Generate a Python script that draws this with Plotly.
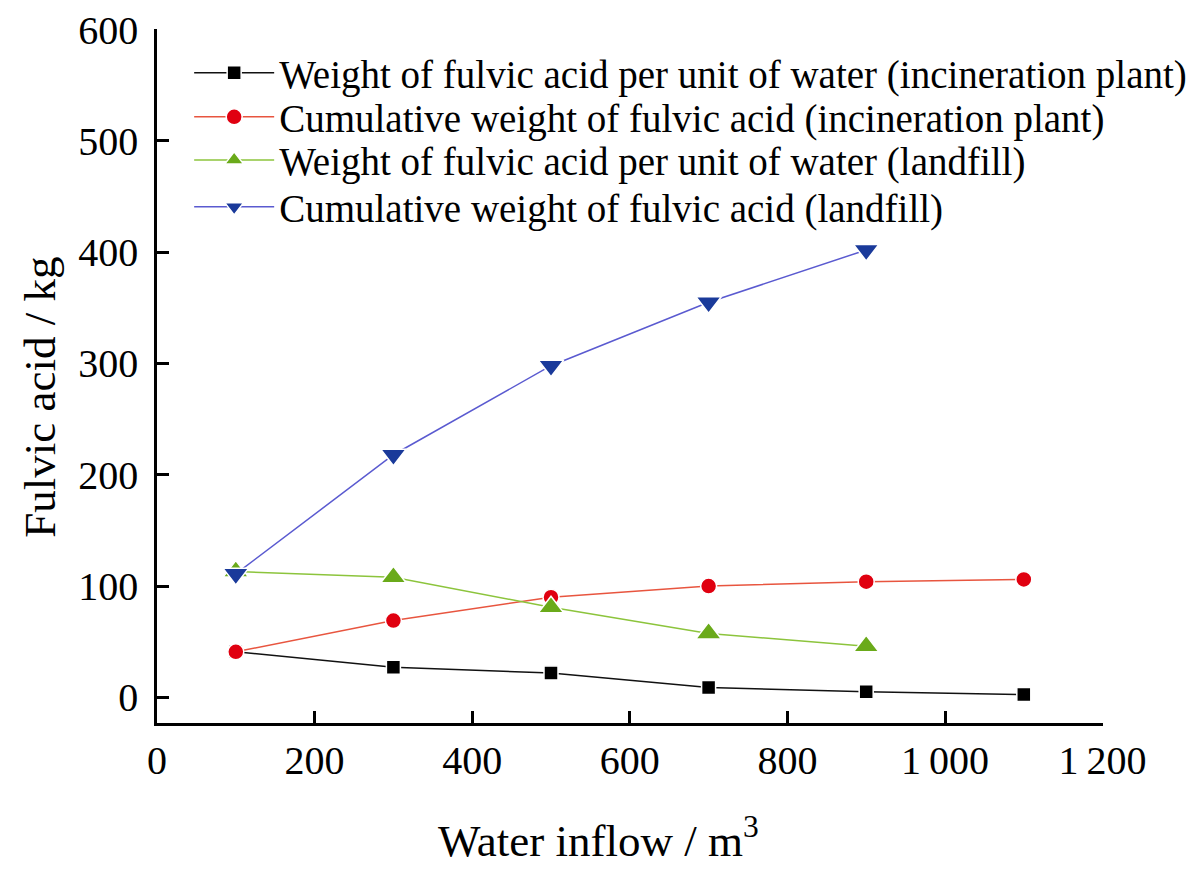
import plotly.graph_objects as go

x_inflow = [100, 300, 500, 700, 900, 1100]
x_landfill = [100, 300, 500, 700, 900]
unit_incin = [41, 27, 22, 9, 5, 2.5]
cum_incin = [41, 69, 90, 100, 104, 106]
unit_landfill = [113, 108, 81, 57.5, 46]
cum_landfill = [111, 218, 298, 355, 402]

names = [
    "Weight of fulvic acid per unit of water (incineration plant)",
    "Cumulative weight of fulvic acid (incineration plant)",
    "Weight of fulvic acid per unit of water (landfill)",
    "Cumulative weight of fulvic acid (landfill)",
]
x_ticks = [0, 200, 400, 600, 800, 1000, 1200]
x_ticktext = ["0", "200", "400", "600", "800", "1\u2009000", "1\u2009200"]
y_ticks = [0, 100, 200, 300, 400, 500, 600]
x_title = "Water inflow / m<sup>3</sup>"
y_title = "Fulvic acid / kg"

FONT = "Liberation Serif, Times New Roman, serif"

series = [
    (x_inflow, unit_incin, names[0], "#111111", "#000000", "square", 14),
    (x_inflow, cum_incin, names[1], "#e8553f", "#e00010", "circle", 16),
    (x_landfill, unit_landfill, names[2], "#8cc43c", "#6aaa1a", "triangle-up", 22),
    (x_landfill, cum_landfill, names[3], "#5a5ad0", "#1a3a9a", "triangle-down", 22),
]
legend_ids = ["legend", "legend2", "legend3", "legend4"]
legend_y = [0.9366, 0.8732, 0.8112, 0.7435]

fig = go.Figure()
for (xs, ys, nm, lc, mc, sym, sz), lid in zip(series, legend_ids):
    fig.add_trace(go.Scatter(
        x=xs, y=ys, name=nm, mode="lines+markers", legend=lid,
        line=dict(color=lc, width=1.5),
        marker=dict(symbol=sym, size=sz, color=mc, line=dict(color="white", width=1.5)),
    ))

fig.add_annotation(text=x_title, xref="paper", yref="paper", x=0.467, y=-0.1657,
                   xanchor="center", yanchor="middle", showarrow=False,
                   font=dict(family=FONT, size=45, color="black"))
fig.add_annotation(text=y_title, xref="paper", yref="paper", x=-0.1237, y=0.47,
                   xanchor="center", yanchor="middle", showarrow=False, textangle=-90,
                   font=dict(family=FONT, size=45, color="black"))

legend_layout = {}
for lid, ly in zip(legend_ids, legend_y):
    legend_layout[lid] = dict(
        x=0.034, y=ly, xanchor="left", yanchor="middle",
        font=dict(family=FONT, size=39, color="black"),
        bgcolor="rgba(0,0,0,0)", itemwidth=80,
    )

fig.update_layout(
    width=1200, height=873,
    paper_bgcolor="white", plot_bgcolor="white",
    margin=dict(l=149, r=105, t=21, b=158),
    font=dict(family=FONT, color="black", size=40),
    showlegend=True,
    xaxis=dict(
        range=[0, 1200.5], tickvals=x_ticks, ticktext=x_ticktext, automargin=False,
        ticklabeloverflow="allow",
        showgrid=False, zeroline=False, showline=True, linecolor="black", linewidth=2.5,
        ticks="inside", ticklen=12, tickwidth=2.5, tickcolor="black",
        tickfont=dict(family=FONT, size=40), ticklabelstandoff=0,
    ),
    yaxis=dict(
        range=[-23, 600.5], tickvals=y_ticks, automargin=False,
        ticklabeloverflow="allow",
        showgrid=False, zeroline=False, showline=True, linecolor="black", linewidth=2.5,
        ticks="inside", ticklen=12, tickwidth=2.5, tickcolor="black",
        tickfont=dict(family=FONT, size=40), ticklabelstandoff=8,
    ),
    **legend_layout,
)

fig.write_html("out.html")
